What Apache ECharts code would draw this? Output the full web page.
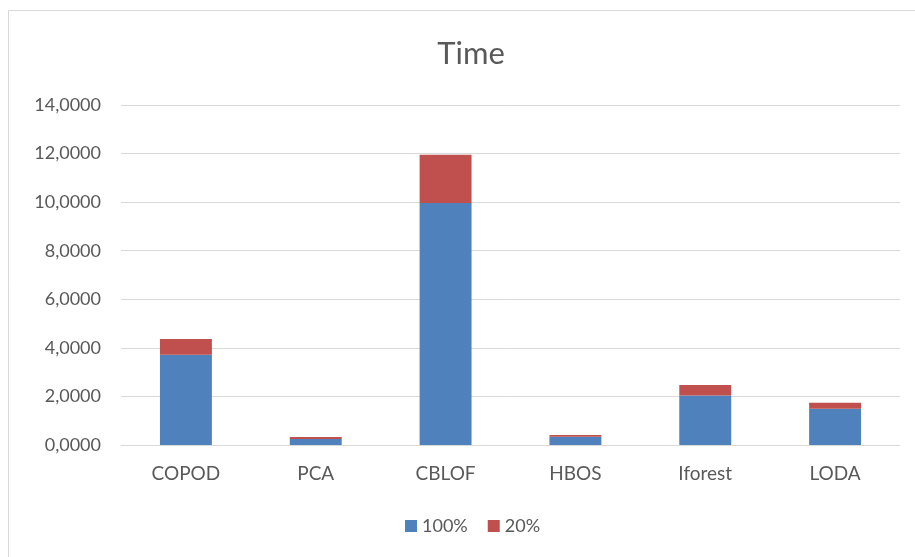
<!DOCTYPE html>
<html>
<head>
<meta charset="utf-8">
<script src="https://cdn.jsdelivr.net/npm/echarts@6/dist/echarts.min.js"></script>
<style>
  html, body { margin: 0; padding: 0; background: #fff; }
  #chart { width: 915px; height: 557px; }
</style>
</head>
<body>
<div id="chart"></div>
<script>
// Runtime per detector (stacked: full data vs 20% sample)
const categories = ['COPOD', 'PCA', 'CBLOF', 'HBOS', 'Iforest', 'LODA'];
const full = [3.72, 0.25, 9.96, 0.34, 2.04, 1.49];
const sample20 = [0.64, 0.08, 1.99, 0.07, 0.43, 0.25];
const seriesNames = ['100%', '20%'];
const yTicks = [0, 2, 4, 6, 8, 10, 12, 14];

const fontFamily = 'Lato, "Open Sans", sans-serif';
const textColor = '#595959';

const chart = echarts.init(document.getElementById('chart'), null, { renderer: 'canvas' });

// Excel-style number format: four decimals, comma separator
const fmt = v => v.toFixed(4).replace('.', ',');

chart.setOption({
  animation: false,
  backgroundColor: '#fff',
  graphic: [{
    type: 'rect',
    shape: { x: 8.5, y: 10.5, width: 1000, height: 1000 },
    style: { fill: 'none', stroke: '#d9d9d9', lineWidth: 1 },
    silent: true
  }],
  title: {
    text: 'Time',
    left: 466,
    textAlign: 'center',
    top: 33,
    textStyle: { fontFamily, fontSize: 31, fontWeight: 'normal', color: textColor }
  },
  legend: {
    data: seriesNames,
    top: 512,
    left: 400,
    itemWidth: 12,
    itemHeight: 12,
    itemGap: 20,
    icon: 'rect',
    textStyle: { fontFamily, fontSize: 18, color: textColor }
  },
  grid: { left: 121, right: 15, top: 105, bottom: 112, containLabel: false },
  xAxis: {
    type: 'category',
    data: categories,
    axisLine: { show: true, lineStyle: { color: '#d9d9d9', width: 1 } },
    axisTick: { show: false },
    axisLabel: { fontFamily, fontSize: 19, color: textColor, margin: 19 }
  },
  yAxis: {
    type: 'value',
    min: yTicks[0],
    max: yTicks[yTicks.length - 1],
    interval: 2,
    axisLine: { show: false },
    axisTick: { show: false },
    axisLabel: { fontFamily, fontSize: 18, color: textColor, margin: 20, formatter: fmt },
    splitLine: { lineStyle: { color: '#d9d9d9', width: 1 } }
  },
  series: [
    {
      name: seriesNames[0],
      type: 'bar',
      stack: 'total',
      data: full,
      barWidth: '40%',
      itemStyle: { color: '#4f81bd' }
    },
    {
      name: seriesNames[1],
      type: 'bar',
      stack: 'total',
      data: sample20,
      barWidth: '40%',
      itemStyle: { color: '#c0504d' }
    }
  ]
});
</script>
</body>
</html>
